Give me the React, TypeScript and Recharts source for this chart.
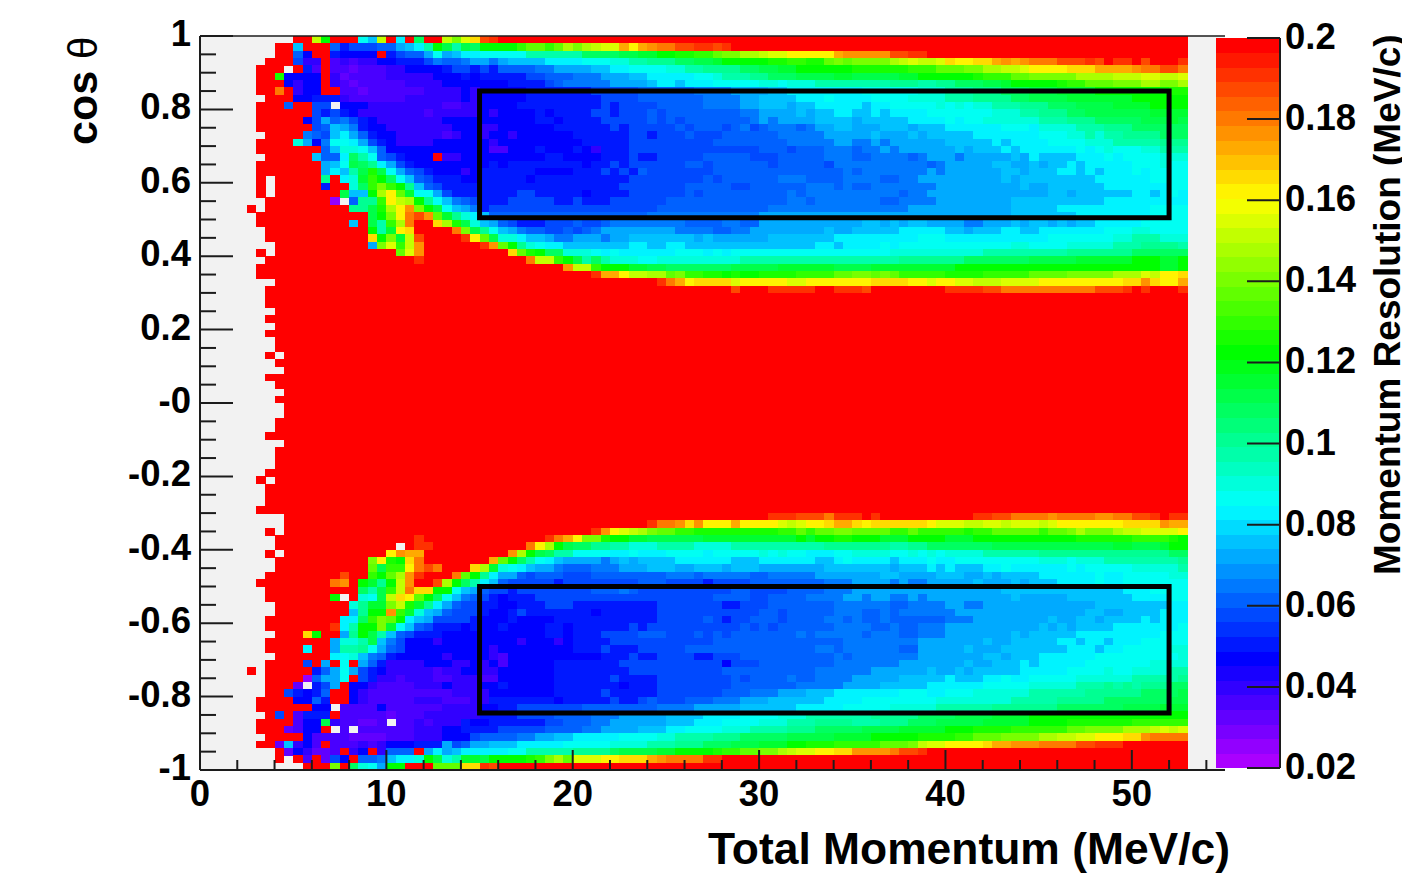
import { ScatterChart, Scatter, XAxis, YAxis, CartesianGrid, ReferenceArea, ReferenceLine } from 'recharts';

// bins: 0.5 MeV/c wide, 0.02 in cos theta. one char per bin, groups of ten,
// '.' = empty bin, 'R' = at or above the top of the scale, a row that stops short runs out in R.
// other chars are steps of 0.005 MeV/c starting from 0.02
const levelChars = '0123456789abcdefghijklmnopqrstuvwxyz';

const upperBandRows = [
  '.......... RRqkRRRdbq RcRhRRqort xy',
  '........RR bRRR867778 8abcfkifih kkkkmnnmnp opqrrusuvw wxxyyxyRRR',
  '........RR 85RR65555R 6788adabcc dddddfffff fhhhhiijjk kllmmnoopp qrrsssssuv vvvvxxyyzz zz',
  '.......RRR 744R343445 566679889a a9abbbbccc cdddeeffgg ghhiijkkkk kllmmllnon oooopqrqqr tssttuvuvw wwxxxyxzyy zxRzzy',
  '......RRR. R63R332333 4455556776 76888899aa aabbccdddd eeffgggghh iijjkkkkkk llllllmmmn nnooppqqrs ssstttuuuu vwwxxw',
  '......RRl5 555R423333 4444455565 6666677888 999aaabbcc cccddefffg ghhhiiiijj iiiiijjkkk kkklmmmnno ooooppppqq qrrqqr',
  '......RRR5 455R432333 3344445555 5556666789 9999aaaabc cbcccddddd eedeeeffff ffffgggffg ghhhiijkkk kklmmnnnoo oppoop',
  '......RRwR 455RR33233 3333444454 5555566666 6677777888 8889999aaa abbccccccc cddddddeee fffggghhhi iijjjjkkkk kkkkll',
  '.......RRR 5566643333 3344444454 5555566666 6667777888 88889999aa bbbbcccdcc ccddddeeee fffgggghhi iiijjjjjjj kkkkkk',
  '......RRR8 RR77.55544 4444443344 5555666666 6667677778 88889999aa bbbabbcccc cbccddddde dedeefffgg ghhhiiiijj jjkkkk',
  '......RRRR RR76765444 4444344444 5455556566 6677677787 8888888899 aaaababbcc bbcbccccdd dddddeeeff ggghhiiiii iijjjj',
  '......RRRR R57a897654 4444445555 5555556656 6667777787 8788888889 a9aaaabbbb abbbbbcccc dcddeeeeee fffggghhhh hiiiji',
  '......RRRR RR78ba9655 4444444555 4455555566 6666767777 7878887897 899989aabb aaabbbabbb ccccccdddc eeeefffggg hhhhhh',
  '.......RRR R987bca865 5444443455 4554555555 6666667767 7787778888 8899999aaa aabaaababb bbbccccccc dddeefeffg ggghhh',
  '......RRRR ea59ddca76 5444455555 5455555555 5666667777 7777788888 88899999aa 99a9aaaaaa bbbbbcbccc cddddeeeff fffggg',
  '......RRRR RRR8beedb8 5555555555 5335556555 6546667777 7777777777 8887888999 899a9aaaaa ababbbcbcc ccccdcdedd deefff',
  '.......RRR RRb88chfd8 76555R4455 5555555665 5556667667 7777888887 7788888999 88999989aa a9aaaaabac bbbbcccdcd dddeee',
  '......RRRR RRRabdihgc a765555555 5656666666 6566767777 7788788888 8788888799 9999999989 aaaaabbaab abbcbccccc dddedd',
  '......RRRR RRRacbfili da87655545 6666665555 6667676877 7777788888 8888888889 89999999a9 aaaaaabbab bbccbcbccc dcdddd',
  '......R.RR RRRgRcejmk hdb8766655 6666656666 6666667777 7777878888 8899988889 9998899aaa aaaaaababb bbbbbbcccc ccdddd',
  '......R.RR RRR6RRehmo mkgb876666 6666666666 6666677777 7788888778 8888899989 889999999a aaaaaaaaba abbbbbbccc ccccdd',
  '......R.RR RRRRRibbkp snjdda7666 6666776666 6566667777 7787888888 8889899999 99999899aa aaaaaaaaaa abbabbbbbb ccbcdc',
  '.......RRR RRRR1.8ggm sqpkgdb987 6667777766 7666777777 8888888888 8889989999 999889999a aaaaaaabbb bbbbbbbccc cccccc',
  '.....R.RRR RRRRRRggil psvokidba9 6777777777 7777777778 8888888888 8999999999 999999aaaa aaaaaaabbb bbcccccccc ccdddd',
  '......RRRR RRRRRRRRik oswxvnjgec b888888888 8888888899 9999999999 aaaaaaaaaa aaaaaaaaaa aaaaaaabbb bbbbcccccc ccdddd',
  '......RRRR RRRRRRbRif mpwRRtplie ba87666777 8778999999 9988889988 aaaaaaaaaa abbababbaa aa99aaabab bababbcccc cddddd',
  '.......RRR RRRRRRRRkf jstRRRzwoi gdba988778 789aaaaaaa a99998899a aaaaaaabaa bbbbbccccc bbabbbccbb cccccccddd eedddd',
  '.......RRR RRRRRRRRtk ojqxRRRRys nieecbba99 aaa9aabbbb bbbabaaaaa abbbbbbbcc cccccccddd cccccccccc cdddddddee fffeee',
  '........RR RRRRRRRRao rmqvRRRRRR yvnkgedccb bbbbbbccbb ccbbbbbbbb bbbbbbccbc cccdcddddd dddddddeed dddeeeeeff fggggf',
  '......R.RR RRRRRRRRRR RnrvzRRRRR RRRtnlkhhe eedcdccccc cdddcdcddd dddddddddd ddddeeeeee eeeeffffff fffggggggg hhhhhh',
  '.......RRR RRRRRRRRRR RRRyRRRRRR RRRRRwqqmk ifhfeeedde eeeeeeeeff ffffffffff fffffggggg gghhhhhhhi iiiijjjjjj kkkjjk',
  '......RRRR RRRRRRRRRR RRRRRRRRRR RRRRRRRzzv qqmkkkjjii hhhhhhhiii iijjjjjjii iijjjjjjjj jkkkkkkkkk kkkkkkkkkk kkkjjk',
  '......RRRR RRRRRRRRRR RRRRRRRRRR RRRRRRRRRR Rzyuusqqpp nommllklkk llllmmmmnn oononmmmmm llllmmmmmn nnnooooopp prqsst',
  '........RR RRRRRRRRRR RRRRRRRRRR RRRRRRRRRR RRRRRRRzzy wusttttrss sssrrsssss ssttttssrs srrqqqrrrr ssssssssst tvtssu',
  '.......RRR RRRRRRRRRR RRRRRRRRRR RRRRRRRRRR RRRRRRRRRR RRRRRzRxRz zyyyyyzzyy yxzzzzRzzz yyyyxxwwww wwwwwwxxxy zyzzzy',
];

const middleRows = [
  '.......RRR', '.......RRR', '........RR', '.......RRR', '........RR', '.......RRR',
  '........RR', '........RR', '.......R.R', '........RR', '.........R', '.......RRR',
  '........RR', '.........R', '........RR', '.........R', '.........R', '........RR',
  '........RR', '.......RRR', '.........R', '........RR', '........RR', '........RR',
  '.......RRR', '......R.RR', '.......RRR', '.......RRR', '.......RRR', '......RRRR',
];

const lowerBandRows = [
  '.........R RRRRRRRRRR RRRRRRRRRR RRRRRRRRRR RRRRRRRRRR RRRRRRzRzR Ryyyxxxwyy yzyRzRRzRR RRzyyxxwww wvwwwwvvww xxyzyy',
  '.........R RRRRRRRRRR RRRRRRRRRR RRRRRRRRRR RRRRRRRzyw wvtvsssuss ssrqrsstuu tsttttttsr rrqqrrqrrr qrssssssst tttvuu',
  '.......R.R RRRRRRRRRR RRRRRRRRRR RRRRRRRRRR Rzyvsrqpon nmmlllllll llmmnmnnoo nnnnmmnmmm mmlmmnnnnn mnnopooopq qrrrrs',
  '........RR RRRRRRRRRR RRRyRRRRRR RRRRRRRywu soolkkjjii iiiijjjjjj jjjjkjkkll kkkjjjkkkk jjjkkkkkkk kkkkllllll mmmmlk',
  '........RR RRRRRRRRRR R.zyyRRRRR RRRRRwspki hhggffeeef fffeeeefff fffffffggg ggggffgghh hhhhhiiiii iiiiiiiijj iiijkk',
  '.......R.R RRRRRRRRRR svuuzRRRRR RRRvpkihff ddddccdccc ddddcddddd ededdcccdd eeeeddeded eeeeffffff gggggggggg gggghh',
  '........RR RRRRRRRRos lktwRRRRRR zunkhfdcba aaa9ababbb bccccccbbb ccccccbbcd ccccbcccdc cddddddddd eeedeeefff fffffg',
  '........RR RRRRRRRRni mmswxwRRzt pjedcbaa98 88999aaabb baabbbabbb aaaaaaabbb bbbbabbbcb cbbbccdccc cccdcddddd eeeeef',
  '.......RRR RRRRRxRRmk npvyRRRwnk gcaa878887 7788888888 9998999998 899999aaaa aaabbaaaab bbaababbbb ccccccdccd ddddee',
  '......RRRR RRRRwvRkjg kqvRRxpkhf cb87777767 7777777888 7777677778 8888888999 aaaa9a99aa aaabaaabab bbccccdccd dddddd',
  '.......RRR RRRRRRRhfi mqwttkkdba 8776777777 7788898777 7777777887 7778888999 aaaaaaaaaa aaaaaabbbb bbbbbbbbbc ccdddd',
  '.......RRR RRRRk.Redi qtsnkhdb98 7656667777 7777777777 7777788887 788889999a a9aa99a9aa aaaaaaabaa aaabbbbbbb ccccdd',
  '........RR RRRRRRegjj oqljgca877 6655666777 6666666667 7777776677 7888888899 9999889999 aa99aaaaaa aaaaaabbbb bbbbcc',
  '........RR RRRRRRbgkk vmjeba8777 6556766666 6656666667 7777777777 8878888899 9889899999 9aaaaaaaaa aaaaabbaab bbbccc',
  '.......RRR RRRRRcchmo nkcba77776 5556555566 6666666667 7777876778 8878888998 9889888888 999aaaaaaa abaabbabbb bcbccc',
  '.......RRR RRRRycfkko jdb8766656 5565555665 6666667677 7777777787 8788888899 9988988999 aaaaaaaaaa bababbbbcc cccccd',
  '........RR RtkRRagkif b876665555 5555555665 6667777888 7778787888 8888989999 9899988999 aaaaaaabab bbbbcccccc cccddd',
  '.......RRR RRRRaeefib 9755545555 5555455545 6666777777 7777788888 8888888889 9999999aaa aaaabaabbb bbccbccbcc cddddd',
  '.......RRR RcRRaffgda 8755555555 5455555555 6667666777 7788888888 8888889989 9999988aaa aabaaabbbb bbbcccbccd ddddee',
  '........RR RRRRcdeb98 6555554555 5435555555 5556667667 7776677788 8888888898 9999999aaa aaaabbabbb ccccccdddd ddddde',
  '.......RRR R7RaRdRa86 4444555445 4535555566 6666677777 7777775777 8888888899 99999aaaaa aabaabbbcb cccccddddd ddeeee',
  '.....R.RRR RR68ada765 4444434455 4455555566 6666667777 7777778888 8888889999 99aaaaaaba ababbbbbcc cccddddedd eeeeff',
  '.......RRR R18aadR764 4344433444 3355555566 6666766667 7777777878 8889889999 aaaaabbbbb cbbbccdccd ddddeeeeee fffffg',
  '.......RRR 2.67aR5543 3334445444 5565555566 6666656667 7777777888 888899999a aaabbbbbcc ccccddddde eeeefffgfg fggghh',
  '.......RR7 6568RR5433 3333333444 4555555566 6667666667 7777778889 99aaabbbcc cccccdddcc dddeeeeeef fffffggggg ghhhhi',
  '......RRRR 5586RR5433 3334443334 4666666656 6666766787 77888999aa abbbbbbccc cdddddddde eeeeeeefff ffggggghhh hhhhii',
  '......RRRR RR55.33335 3333334444 5566777777 7888888889 999aaaaabb bbbbcccccd ddddeeeeef fffffggggg gghhhhhhhi iiijjj',
  '.......R7R 3666R33333 2333444444 6666777788 88999aaaaa bbbbccccdd ddeeefffff ffggggghhh hiiiijjjjk kkkkkkkkkk kkkkkk',
  '......RRRR 355i433223 .334344465 5666666778 8899aaaaaa bbbcccdddd eeefffgggg fffggghhhi iiiijjjjjk kkklllllll mmmmmm',
  '......RRR2 355R.3.333 3334445566 6677777888 899aaaabbb ccddddeeef fffggghhhh hiiiijjjjj kkkllllmmm mmmnnoooop ppqrqr',
  '.......RRR R533332222 3334445557 888899aabb cccccdddde effffggghh hhhiiiiijj jjkkkkklll lmmnnnoooo ppqqrrssst tvwwww',
  '......RR2b 453R333434 555666a78a abbbcccccd ddddeeeeff fggghhhiii jjjkklllmm mmmnnnoqrr sssstuuvvv wwwwxxyyyR',
  '........R2 54223R45R4 888Racabcc cccddfffff gggghiiiij jkkkklmmnn oopqrrsstt vvvvwxxyzz zz',
  '........R. R3R275R889 bccekiefjj ikkkklmopn rrrsstttuv wwwwyyRRRR',
  '.......... .RRRoRheda kkRRRnnntt yx',
];

const resolutionRows = [...upperBandRows, ...middleRows, ...lowerBandRows];

const momentumTicks = [0, 2, 4, 6, 8, 10, 12, 14, 16, 18, 20, 22, 24, 26, 28, 30, 32, 34, 36, 38, 40, 42, 44, 46, 48, 50, 52, 54];
const momentumLabels = [0, 10, 20, 30, 40, 50];

const cosTicks = [
  -1, -0.95, -0.9, -0.85, -0.8, -0.75, -0.7, -0.65, -0.6, -0.55, -0.5, -0.45, -0.4, -0.35, -0.3, -0.25, -0.2, -0.15, -0.1, -0.05,
  0, 0.05, 0.1, 0.15, 0.2, 0.25, 0.3, 0.35, 0.4, 0.45, 0.5, 0.55, 0.6, 0.65, 0.7, 0.75, 0.8, 0.85, 0.9, 0.95, 1,
];
const cosMajorTicks = [-1, -0.8, -0.6, -0.4, -0.2, 0, 0.2, 0.4, 0.6, 0.8, 1];
const cosMajorLabels = ['-1', '-0.8', '-0.6', '-0.4', '-0.2', '-0', '0.2', '0.4', '0.6', '0.8', '1'];

const scaleTicks = [0.02, 0.04, 0.06, 0.08, 0.1, 0.12, 0.14, 0.16, 0.18, 0.2];
const paletteSteps = [
  0.0218, 0.0254, 0.029, 0.0326, 0.0362, 0.0398, 0.0434, 0.047, 0.0506, 0.0542, 0.0578, 0.0614, 0.065, 0.0686, 0.0722, 0.0758, 0.0794,
  0.083, 0.0866, 0.0902, 0.0938, 0.0974, 0.101, 0.1046, 0.1082, 0.1118, 0.1154, 0.119, 0.1226, 0.1262, 0.1298, 0.1334, 0.137, 0.1406,
  0.1442, 0.1478, 0.1514, 0.155, 0.1586, 0.1622, 0.1658, 0.1694, 0.173, 0.1766, 0.1802, 0.1838, 0.1874, 0.191, 0.1946, 0.1982,
];

// signal boxes: [pMin, pMax, cosMin, cosMax]
const signalBoxes = [
  [15, 52, 0.505, 0.85],
  [15, 52, -0.845, -0.5],
];

const PLOT_LEFT = 200;
const PLOT_RIGHT = 1225;
const PLOT_TOP = 36;
const PLOT_BOTTOM = 770;
const CELL_W = ((PLOT_RIGHT - PLOT_LEFT) / 55) * 0.5;
const CELL_H = (PLOT_BOTTOM - PLOT_TOP) / 100;
const BAR_W = 64;
const BAR_STEP_H = 730 / 50;
const FONT = '"Liberation Sans", Arial, sans-serif';
const INK = '#1c1c1c';
const TICK_FONT = 36.5;

// read the bin chars back into one point per filled bin
const cells = resolutionRows.flatMap((row, r) => {
  const bins = row.replace(/ /g, '').padEnd(106, 'R');
  const out: { p: number; c: number; v: number }[] = [];
  for (let i = 0; i < bins.length; i++) {
    if (bins[i] === '.') continue;
    const v = bins[i] === 'R' ? 0.2 : 0.0215 + levelChars.indexOf(bins[i]) * 0.005;
    out.push({ p: i * 0.5 + 0.25, c: 1 - (r + 0.5) * 0.02, v });
  }
  return out;
});

const paletteCells = paletteSteps.map((v) => ({ s: 0.5, v }));

// 50 colour palette, violet to red
function valueColor(v: number): string {
  const step = Math.min(49, Math.floor((v - 0.02) / 0.0036));
  return `hsl(${280 * (1 - step / 49)}, 100%, 50%)`;
}

const HeatCell = (props: any) => (
  <rect
    x={props.cx - CELL_W / 2}
    y={props.cy - CELL_H / 2}
    width={CELL_W + 0.4}
    height={CELL_H + 0.4}
    fill={valueColor(props.payload.v)}
    shapeRendering="crispEdges"
  />
);

const BarStep = (props: any) => (
  <rect
    x={props.cx - BAR_W / 2}
    y={props.cy - BAR_STEP_H / 2}
    width={BAR_W}
    height={BAR_STEP_H + 0.4}
    fill={valueColor(props.payload.v)}
    shapeRendering="crispEdges"
  />
);

const MomentumTick = ({ x, payload }: any) => {
  const major = momentumLabels.includes(payload.value);
  return (
    <g>
      <line x1={x} x2={x} y1={PLOT_BOTTOM} y2={PLOT_BOTTOM - (major ? 20 : 10)} stroke={INK} strokeWidth={2} />
      {major && (
        <text x={x} y={806} textAnchor="middle" fontFamily={FONT} fontWeight="bold" fontSize={TICK_FONT} fill="#000">
          {payload.value}
        </text>
      )}
    </g>
  );
};

const CosTick = ({ y, payload }: any) => {
  const idx = cosMajorTicks.indexOf(payload.value);
  const major = idx >= 0;
  return (
    <g>
      <line x1={PLOT_LEFT} x2={PLOT_LEFT + (major ? 33 : 16)} y1={y} y2={y} stroke={INK} strokeWidth={2} />
      {major && (
        <text x={191} y={y + 10} textAnchor="end" fontFamily={FONT} fontWeight="bold" fontSize={TICK_FONT} fill="#000">
          {cosMajorLabels[idx]}
        </text>
      )}
    </g>
  );
};

const ScaleTick = ({ y, payload }: any) => (
  <g>
    <line x1={BAR_W - 33} x2={BAR_W} y1={y} y2={y} stroke={INK} strokeWidth={2} />
    <text x={BAR_W + 5} y={y + 11} fontFamily={FONT} fontWeight="bold" fontSize={TICK_FONT} fill="#000">
      {payload.value}
    </text>
  </g>
);

export default function App() {
  return (
    <div style={{ position: 'fixed', left: 0, top: 0, width: 1402, height: 878, overflow: 'hidden', background: '#fff' }}>
      <div style={{ position: 'absolute', left: 0, top: 0 }}>
        <ScatterChart
          width={1402}
          height={878}
          margin={{ left: 100, top: PLOT_TOP, right: 1402 - PLOT_RIGHT, bottom: 8 }}
        >
          <CartesianGrid horizontal={false} vertical={false} fill="#f2f2f2" />
          <Scatter data={cells} shape={HeatCell} isAnimationActive={false} />
          {signalBoxes.map((b, i) => (
            <ReferenceArea
              key={i}
              x1={b[0]}
              x2={b[1]}
              y1={b[2]}
              y2={b[3]}
              fill="none"
              fillOpacity={0}
              stroke="#000"
              strokeWidth={5}
              zIndex={800}
            />
          ))}
          <ReferenceLine y={1} stroke={INK} strokeWidth={1.5} zIndex={800} />
          <XAxis
            type="number"
            dataKey="p"
            domain={[0, 55]}
            ticks={momentumTicks}
            interval={0}
            height={100}
            tickLine={false}
            tick={MomentumTick}
            axisLine={{ stroke: INK, strokeWidth: 2 }}
            zIndex={800}
          />
          <YAxis
            type="number"
            dataKey="c"
            domain={[-1, 1]}
            ticks={cosTicks}
            interval={0}
            width={100}
            tickLine={false}
            tick={CosTick}
            axisLine={{ stroke: INK, strokeWidth: 2 }}
            zIndex={800}
          />
          <text x={1230} y={864} textAnchor="end" fontFamily={FONT} fontWeight="bold" fontSize={44.4} fill="#000">
            Total Momentum (MeV/c)
          </text>
          <text
            transform="translate(97,145) rotate(-90)"
            fontFamily={FONT}
            fontWeight="bold"
            fontSize={43}
            fill="#000"
          >
            cos <tspan fontWeight="normal" fontSize={40}>θ</tspan>
          </text>
        </ScatterChart>
      </div>
      <div style={{ position: 'absolute', left: 1216, top: 0 }}>
        <ScatterChart width={186} height={878} margin={{ left: 0, top: 38, right: 0, bottom: 110 }}>
          <Scatter data={paletteCells} shape={BarStep} isAnimationActive={false} />
          <XAxis type="number" dataKey="s" domain={[0, 1]} hide />
          <YAxis
            type="number"
            dataKey="v"
            orientation="right"
            domain={[0.02, 0.2]}
            ticks={scaleTicks}
            interval={0}
            width={122}
            tickLine={false}
            tick={ScaleTick}
            axisLine={{ stroke: INK, strokeWidth: 2 }}
            zIndex={800}
          />
          <text
            transform="translate(184,575) rotate(-90)"
            fontFamily={FONT}
            fontWeight="bold"
            fontSize={37}
            fill="#000"
          >
            Momentum Resolution (MeV/c)
          </text>
        </ScatterChart>
      </div>
    </div>
  );
}
